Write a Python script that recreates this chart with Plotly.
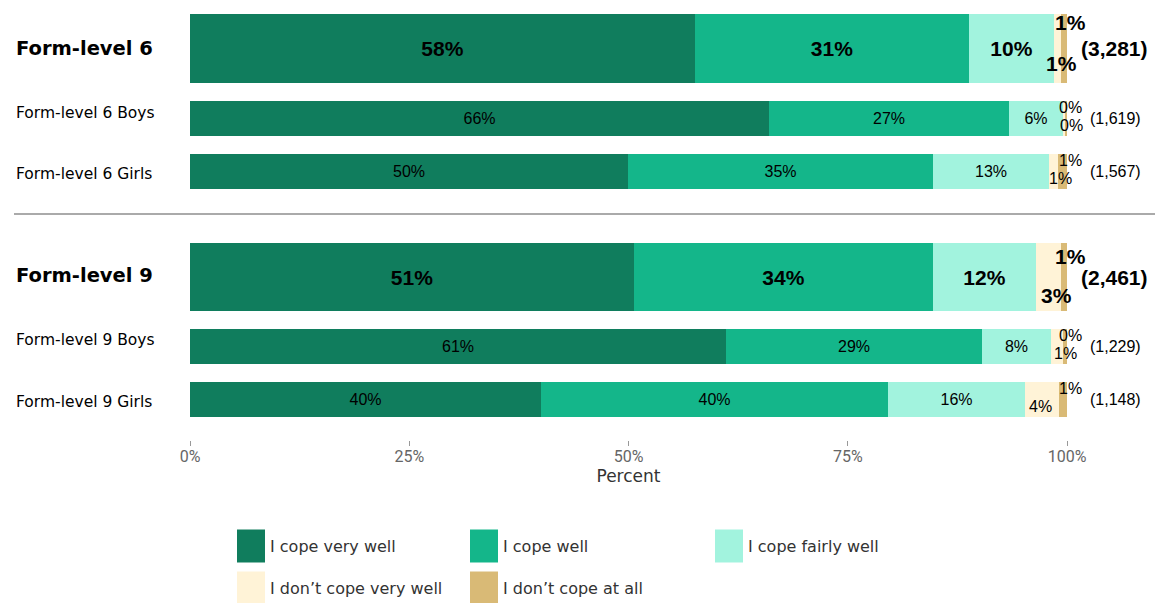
import plotly.graph_objects as go

# Rows, top to bottom
groups = ["Form-level 6", "Form-level 6 Boys", "Form-level 6 Girls",
          "Form-level 9", "Form-level 9 Boys", "Form-level 9 Girls"]
totals = [True, False, False, True, False, False]
counts = ["(3,281)", "(1,619)", "(1,567)", "(2,461)", "(1,229)", "(1,148)"]

# Response categories and shares (percent)
categories = ["I cope very well", "I cope well", "I cope fairly well",
              "I don\u2019t cope very well", "I don\u2019t cope at all"]
cope_very_well = [57.6, 66.0, 49.9, 50.6, 61.1, 40.0]
cope_well = [31.2, 27.4, 34.8, 34.1, 29.2, 39.6]
cope_fairly_well = [9.7, 6.2, 13.2, 11.8, 7.9, 15.6]
not_very_well = [0.8, 0.2, 1.1, 2.8, 1.4, 3.9]
not_at_all = [0.7, 0.2, 1.0, 0.7, 0.4, 0.9]
series = [cope_very_well, cope_well, cope_fairly_well, not_very_well, not_at_all]

colors = ["#107D5D", "#14B68A", "#A2F3DE", "#FFF3D7", "#D9BA76"]

# Vertical layout in pixel units (y axis spans 0..440 px, top to bottom)
row_center = [48.5, 118.5, 171.5, 277, 346.5, 399.5]
row_height = [69, 35, 35, 68, 35, 35]
label_dy = [0, -6, 2, -2, -7, 2]
PLOT_BOTTOM = 440
X0_PX, X1_PX = 190, 1067
W, H = 1156, 603

def px_to_paper_x(px):
    return (px - X0_PX) / (X1_PX - X0_PX)

def px_to_paper_y(py):
    return (PLOT_BOTTOM - py) / PLOT_BOTTOM

NUM_FONT = "Liberation Sans, Arial, sans-serif"
LBL_FONT = "DejaVu Sans, sans-serif"
BIG, SMALL = 21, 16

fig = go.Figure()
for name, vals, col in zip(categories, series, colors):
    inside = name in categories[:3]
    texts = []
    sizes = []
    for v, big in zip(vals, totals):
        t = f"{round(v)}%"
        texts.append(f"<b>{t}</b>" if big else t)
        sizes.append(BIG if big else SMALL)
    fig.add_trace(go.Bar(
        name=name, y=row_center, x=vals, width=row_height, orientation="h",
        marker=dict(color=col, line=dict(width=0)),
        text=texts if inside else None,
        textposition="inside" if inside else "none",
        insidetextanchor="middle", textangle=0, constraintext="none",
        textfont=dict(family=NUM_FONT, color="#000", size=sizes),
        showlegend=False, hoverinfo="skip",
    ))

annotations = []
# small-segment labels: "not at all" above, "not very well" below
lower_nudge = [4, 7, 7, 8, 8, -2]
for i, big in enumerate(totals):
    size = BIG if big else SMALL
    fmt = (lambda s: f"<b>{s}</b>") if big else (lambda s: s)
    cum_before_cream = cope_very_well[i] + cope_well[i] + cope_fairly_well[i]
    cream_mid = cum_before_cream + not_very_well[i] / 2
    end = min(100.0, cum_before_cream + not_very_well[i] + not_at_all[i] - 1e-9)
    if i == 0:
        up, dn = -26, 15
    elif big:
        up, dn = -21, 18
    else:
        up, dn = -11, 7
    annotations.append(dict(
        x=end, y=row_center[i], xref="x", yref="y", text=fmt(f"{round(not_at_all[i])}%"),
        showarrow=False, xanchor="center", yanchor="middle", xshift=3, yshift=-up,
        font=dict(family=NUM_FONT, size=size, color="#000")))
    annotations.append(dict(
        x=cream_mid, y=row_center[i], xref="x", yref="y", text=fmt(f"{round(not_very_well[i])}%"),
        showarrow=False, xanchor="center", yanchor="middle", xshift=lower_nudge[i], yshift=-dn,
        font=dict(family=NUM_FONT, size=size, color="#000")))
    # sample size
    annotations.append(dict(
        x=100 - 1e-9, y=row_center[i], xref="x", yref="y", text=fmt(counts[i]),
        showarrow=False, xanchor="left", yanchor="middle", xshift=12 if big else 21,
        font=dict(family=NUM_FONT, size=size, color="#000")))
    # row label
    annotations.append(dict(
        x=px_to_paper_x(14), y=row_center[i] + label_dy[i], xref="paper", yref="y",
        text=fmt(groups[i]), showarrow=False, xanchor="left", yanchor="middle",
        font=dict(family=LBL_FONT, size=19.5 if big else 15.5, color="#000")))

shapes = [dict(type="line", xref="paper", yref="y",
               x0=px_to_paper_x(14), x1=px_to_paper_x(1155), y0=214, y1=214,
               line=dict(color="#AAAAAA", width=2))]

# legend drawn as swatches + labels
legend_slots = [(237, 546), (470, 546), (715, 546), (237, 588), (470, 588)]
for name, col, (lx, ly) in zip(categories, colors, legend_slots):
    shapes.append(dict(type="rect", xref="paper", yref="paper",
                       x0=px_to_paper_x(lx), x1=px_to_paper_x(lx + 28),
                       y0=px_to_paper_y(ly + 16.5), y1=px_to_paper_y(ly - 16.5),
                       fillcolor=col, line=dict(width=0)))
    annotations.append(dict(
        x=px_to_paper_x(lx + 31), y=px_to_paper_y(ly), xref="paper", yref="paper",
        text=name, showarrow=False, xanchor="left", yanchor="middle",
        font=dict(family=LBL_FONT, size=16, color="#333")))

fig.update_layout(
    width=W, height=H, barmode="stack", bargap=0,
    paper_bgcolor="white", plot_bgcolor="white",
    margin=dict(l=X0_PX, r=W - X1_PX, t=0, b=H - PLOT_BOTTOM),
    annotations=annotations, shapes=shapes,
    xaxis=dict(range=[0, 100], tickvals=[0, 25, 50, 75, 100],
               ticktext=["0%", "25%", "50%", "75%", "100%"],
               ticks="outside", ticklen=5, tickcolor="#999", tickwidth=1,
               ticklabelstandoff=-3,
               showgrid=False, zeroline=False, showline=False,
               tickfont=dict(family="Roboto, sans-serif", size=16, color="#666"),
               title=dict(text="Percent", standoff=4,
                          font=dict(family=LBL_FONT, size=17, color="#333"))),
    yaxis=dict(range=[PLOT_BOTTOM, 0], visible=False, showgrid=False, zeroline=False),
)

fig.write_html("out.html")
